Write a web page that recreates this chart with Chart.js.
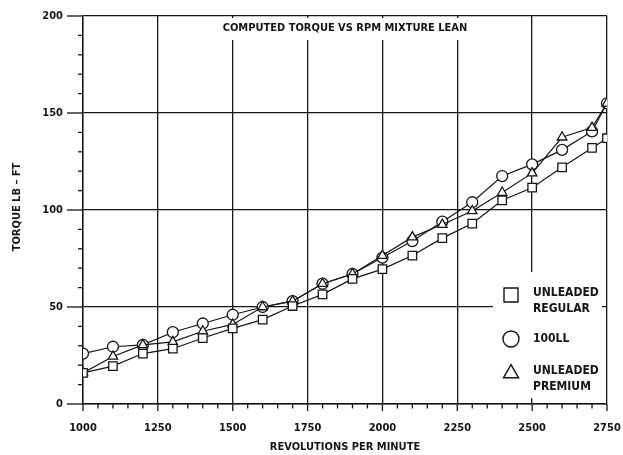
<!DOCTYPE html>
<html>
<head>
<meta charset="utf-8">
<script src="https://cdn.jsdelivr.net/npm/chart.js@4/dist/chart.umd.min.js"></script>
<style>
  html, body { margin: 0; padding: 0; background: #fff; }
  #wrap { width: 623px; height: 455px; position: relative; }
</style>
</head>
<body>
<div id="wrap"><canvas id="c" width="623" height="455"></canvas></div>
<script>
// ---- data ----
const rpm = [1000, 1100, 1200, 1300, 1400, 1500, 1600, 1700, 1800, 1900, 2000, 2100, 2200, 2300, 2400, 2500, 2600, 2700, 2750];
const unleadedRegular = [16, 19.5, 26, 28.5, 34, 39, 43.5, 50.5, 56.5, 64.5, 69.5, 76.5, 85.5, 93, 105, 111.5, 122, 132, 137];
const avgas100LL     = [26, 29.5, 30.5, 37, 41.5, 46, 50, 53, 62, 67, 75.5, 84, 94, 104, 117.5, 123.5, 131, 140.5, 155];
const unleadedPremium = [16, 24.5, 30.5, 32, 37.5, 41, 50, 53, 62, 67, 76.5, 86, 92.5, 99.5, 109, 119, 137.5, 142.5, 155];
const seriesLabels = [["UNLEADED", "REGULAR"], ["100LL"], ["UNLEADED", "PREMIUM"]];
const xMajorTicks = [1000, 1250, 1500, 1750, 2000, 2250, 2500, 2750];
const yMajorTicks = [0, 50, 100, 150, 200];
const chartTitle = "COMPUTED TORQUE VS RPM MIXTURE LEAN";
const xTitle = "REVOLUTIONS PER MINUTE";
const yTitle = "TORQUE LB \u2013 FT";

const FONT = "'Liberation Sans Narrow', 'DejaVu Sans Condensed', 'Arial Narrow', sans-serif";
const INK = '#151515';
Chart.defaults.font.family = FONT;
Chart.defaults.color = INK;

function toPoints(ys) { return rpm.map((x, i) => ({ x: x, y: ys[i] })); }

function markerPath(ctx, style, x, y, s) {
  ctx.beginPath();
  if (style === 'rect') {
    ctx.rect(x - s, y - s, 2 * s, 2 * s);
  } else if (style === 'circle') {
    ctx.arc(x, y, s, 0, Math.PI * 2);
  } else {
    ctx.moveTo(x, y - s * 1.05);
    ctx.lineTo(x + s * 0.95, y + s * 0.6);
    ctx.lineTo(x - s * 0.95, y + s * 0.6);
    ctx.closePath();
  }
}

const decor = {
  id: 'decor',
  beforeDatasetsDraw(chart) {
    const ctx = chart.ctx;
    const a = chart.chartArea;
    const xs = chart.scales.x, ys = chart.scales.y;
    ctx.save();
    // ticks (outward), major longer
    ctx.strokeStyle = INK;
    ctx.lineWidth = 1.3;
    xs.ticks.forEach(t => {
      const px = xs.getPixelForValue(t.value);
      const major = xMajorTicks.includes(t.value);
      ctx.beginPath();
      ctx.moveTo(px, a.bottom);
      ctx.lineTo(px, a.bottom + (major ? 7 : 4.5));
      ctx.stroke();
    });
    ys.ticks.forEach(t => {
      const py = ys.getPixelForValue(t.value);
      const major = yMajorTicks.includes(t.value);
      ctx.beginPath();
      ctx.moveTo(a.left, py);
      ctx.lineTo(a.left - (major ? 16 : 5), py);
      ctx.stroke();
    });
    // title box
    ctx.fillStyle = '#fff';
    ctx.fillRect(218, a.top + 2, 256, 22);
    ctx.fillStyle = INK;
    ctx.font = "bold 11px " + FONT;
    ctx.textAlign = 'center';
    ctx.textBaseline = 'middle';
    ctx.fillText(chartTitle, (a.left + a.right) / 2, a.top + 12);
    // legend box
    const lx = a.right - 114, ly = ys.getPixelForValue(68);
    ctx.fillStyle = '#fff';
    ctx.fillRect(lx, ly, 109, ys.getPixelForValue(3) - ly);
    const styles = ['rect', 'circle', 'triangle'];
    const sizes = [7, 8, 8];
    const rows = [[295, 293, 309], [339, 339], [373, 371, 387]];
    styles.forEach((st, i) => {
      const cy = rows[i][0];
      ctx.fillStyle = '#fff';
      ctx.strokeStyle = INK;
      ctx.lineWidth = 1.4;
      markerPath(ctx, st, lx + 18, cy, sizes[i]);
      ctx.fill(); ctx.stroke();
      ctx.fillStyle = INK;
      ctx.textAlign = 'left';
      ctx.font = "bold 12px " + FONT;
      seriesLabels[i].forEach((s, j) => ctx.fillText(s, lx + 40, rows[i][j + 1]));
    });
    // y title
    ctx.save();
    ctx.translate(17, 207);
    ctx.rotate(-Math.PI / 2);
    ctx.textAlign = 'center';
    ctx.textBaseline = 'middle';
    ctx.font = "bold 11px " + FONT;
    ctx.fillText(yTitle, 0, 0);
    ctx.restore();
    // x title
    ctx.textAlign = 'center';
    ctx.textBaseline = 'middle';
    ctx.font = "bold 11px " + FONT;
    ctx.fillText(xTitle, (a.left + a.right) / 2, 447);
    ctx.restore();
  }
};

const common = { borderColor: INK, borderWidth: 1.2, pointBackgroundColor: '#fff', pointBorderColor: INK, pointBorderWidth: 1.3, tension: 0, fill: false };

new Chart(document.getElementById('c'), {
  type: 'line',
  data: {
    datasets: [
      Object.assign({ label: seriesLabels[0].join(' '), data: toPoints(unleadedRegular), pointStyle: 'rect', pointRadius: 6 }, common),
      Object.assign({ label: seriesLabels[2].join(' '), data: toPoints(unleadedPremium), pointStyle: 'triangle', pointRadius: 5.5 }, common),
      Object.assign({ label: seriesLabels[1].join(' '), data: toPoints(avgas100LL), pointStyle: 'circle', pointRadius: 5.5 }, common)
    ]
  },
  options: {
    responsive: false,
    animation: false,
    layout: { padding: { left: 0, right: 16, top: 16, bottom: 0 } },
    plugins: { legend: { display: false }, tooltip: { enabled: false }, title: { display: false } },
    scales: {
      x: {
        type: 'linear', min: 1000, max: 2750,
        border: { display: true, color: INK, width: 1.4 },
        grid: { drawTicks: false, lineWidth: 1.3, color: c => xMajorTicks.includes(c.tick.value) ? INK : 'rgba(0,0,0,0)' },
        ticks: { stepSize: 50, autoSkip: false, maxRotation: 0, padding: 18, color: INK,
                 font: { size: 11, weight: 'bold' },
                 callback: v => xMajorTicks.includes(v) ? String(v) : '' },
        afterFit: s => { s.height = 51; s.paddingLeft = 0; s.paddingRight = 0; }
      },
      y: {
        min: 0, max: 200,
        border: { display: true, color: INK, width: 1.4 },
        grid: { drawTicks: false, lineWidth: 1.3, color: c => yMajorTicks.includes(c.tick.value) ? INK : 'rgba(0,0,0,0)' },
        ticks: { stepSize: 10, autoSkip: false, padding: 20, color: INK,
                 font: { size: 11, weight: 'bold' },
                 callback: v => yMajorTicks.includes(v) ? String(v) : '' },
        afterFit: s => { s.width = 83; s.paddingTop = 0; s.paddingBottom = 0; }
      }
    }
  },
  plugins: [decor]
});
</script>
</body>
</html>
